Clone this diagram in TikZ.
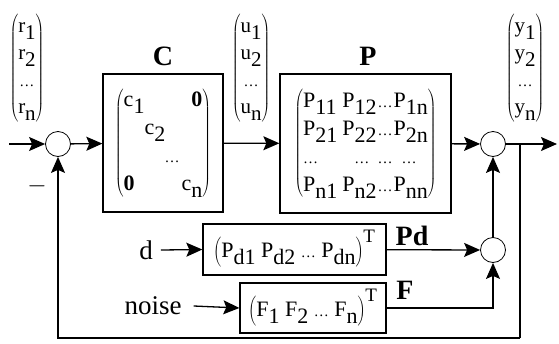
\documentclass[tikz,border=0pt]{standalone}
\usepackage{fontspec}
\setmainfont{Liberation Serif}
\usepackage{tikz}
\usetikzlibrary{positioning,arrows.meta,calc}
\newcommand{\lo}[1]{\raisebox{-0.7ex}{#1}}
\newcommand{\dts}{{\fontsize{15}{15}\selectfont\dots}}
\newcommand{\vect}[1]{$\left(\vcenter{\hbox{\begin{tabular}{@{}c@{}}#1\end{tabular}}}\right)$}
\tikzset{
  block/.style={draw, line width=1.3pt, inner sep=0pt, font=\fontsize{22}{28}\selectfont},
  sum/.style={draw, circle, line width=0.8pt, minimum size=25pt, inner sep=0pt},
  vec/.style={inner sep=0pt, font=\fontsize{21}{27}\selectfont},
  lbl/.style={inner sep=0pt, font=\fontsize{28}{28}\selectfont\bfseries},
  sig/.style={inner sep=0pt, font=\fontsize{27}{27}\selectfont},
  l/.style={-{Stealth[length=16pt,width=14pt,inset=3pt]}, line width=1.3pt},
  w/.style={line width=1.3pt},
}

\begin{document}
\begin{tikzpicture}[x=1pt,y=-1pt]
  \useasboundingbox (0,0) rectangle (559,343);
  \node[sum](s1) at (58,144){};
  \node[sum](s2) at (493,144){};
  \node[sum](s3) at (493,250){};
  \node[block,minimum width=120pt,minimum height=138pt](C) at (163,143){%
    $\left(\vcenter{\hbox{\begin{tabular}{@{}l@{\hspace{0pt}}l@{\hspace{2pt}}r@{}}
      c\lo{1} & & \textbf{0}\\ & c\lo{2} & \\ & \hspace{20pt}\dts & \\ \textbf{0} & & c\lo{n}
    \end{tabular}}}\right)$};
  \node[block,minimum width=171pt,minimum height=139pt](P) at (365.5,143.5){%
    $\left(\vcenter{\hbox{\begin{tabular}{@{}l@{\hspace{5pt}}l@{\hspace{1pt}}c@{\hspace{1pt}}l@{}}
      P\lo{11} & P\lo{12} & \dts & P\lo{1n}\\
      P\lo{21} & P\lo{22} & \dts & P\lo{2n}\\
      \dts & \hspace{12pt}\dts & \dts & \hspace{8pt}\dts\\
      P\lo{n1} & P\lo{n2} & \dts & P\lo{nn}
    \end{tabular}}}\right)$};
  \node[block,minimum width=183pt,minimum height=51pt](Pd) at (294.5,249.5){%
    $\left(\vrule height 15pt depth 11pt width 0pt\hbox{P\lo{d1} P\lo{d2} \dts\ P\lo{dn}}\right)^{\hbox{\fontsize{19}{19}\selectfont T}}$};
  \node[block,minimum width=146pt,minimum height=50pt](F) at (313,308){%
    $\left(\vrule height 15pt depth 11pt width 0pt\hbox{F\lo{1} F\lo{2} \dts\ F\lo{n}}\right)^{\hbox{\fontsize{19}{19}\selectfont T}}$};
  \node[vec](r) at (27,68){\vect{r\lo{1}\\r\lo{2}\\\dts\\r\lo{n}}};
  \node[vec](u) at (251,68){\vect{u\lo{1}\\u\lo{2}\\\dts\\u\lo{n}}};
  \node[vec](y) at (525,68){\vect{y\lo{1}\\y\lo{2}\\\dts\\y\lo{n}}};
  \node[lbl](cl) at (163,56){C};
  \node[lbl](pl) at (368,56){P};
  \node[lbl](pdl) at (412,236){Pd};
  \node[lbl](fl) at (405,290){F};
  \node[sig](d) at (146,250){d};
  \node[sig](nz) at (153,306){noise};
  \node[sig](mn) at (37,186){$-$};
  \coordinate(in) at (9,144);
  \coordinate(out) at (557,144);
  \coordinate(br) at (520,144);
  \coordinate(fb) at (520,338);
  \draw[l](in)--(s1);\draw[l](s1)--(C);\draw[l](C)--(P);\draw[l](P)--(s2);\draw[l](s2)--(out);
  \draw[l](s3)--(s2);\draw[l](Pd)--(s3);\draw[l](F.east)-|(s3.south);
  \draw[l](d.east)++(8pt,0)--(Pd.west);
  \draw[l](nz.east)++(12pt,0)--(F.west);
  \draw[w](br)--(fb);\draw[l](fb)-|(s1.south);
\end{tikzpicture}
\end{document}
